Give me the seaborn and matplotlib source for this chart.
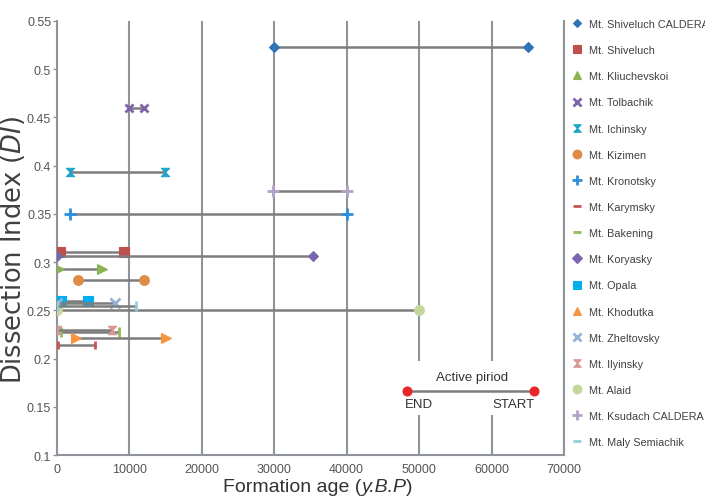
import numpy as np
import pandas as pd
import matplotlib
matplotlib.use("Agg")
import matplotlib.pyplot as plt
import seaborn as sns
from matplotlib.lines import Line2D
from matplotlib.patches import Rectangle
from matplotlib.path import Path
from matplotlib.offsetbox import TextArea, HPacker, AnchoredOffsetbox

# ---------------- data ----------------
volcanoes = ["Mt. Shiveluch CALDERA", "Mt. Shiveluch", "Mt. Kliuchevskoi", "Mt. Tolbachik",
             "Mt. Ichinsky", "Mt. Kizimen", "Mt. Kronotsky", "Mt. Karymsky", "Mt. Bakening",
             "Mt. Koryasky", "Mt. Opala", "Mt. Khodutka", "Mt. Zheltovsky", "Mt. Ilyinsky",
             "Mt. Alaid", "Mt. Ksudach CALDERA", "Mt. Maly Semiachik"]
dissection_index = [0.523, 0.310, 0.293, 0.460, 0.393, 0.281, 0.350, 0.214, 0.228,
                    0.306, 0.260, 0.221, 0.258, 0.230, 0.250, 0.374, 0.254]
end_age = [30000, 500, 300, 10000, 1800, 2900, 1800, 200, 650,
           0, 650, 2700, 0, 0, 0, 29900, 0]
start_age = [65000, 9300, 6300, 12000, 14900, 12000, 40000, 5300, 8600,
             35300, 4300, 15100, 8100, 7700, 50000, 40000, 11000]

x_ticks = [0, 10000, 20000, 30000, 40000, 50000, 60000, 70000]
y_ticks = [0.1, 0.15, 0.2, 0.25, 0.3, 0.35, 0.4, 0.45, 0.5, 0.55]
y_tick_labels = ["0.1", "0.15", "0.2", "0.25", "0.3", "0.35", "0.4", "0.45", "0.5", "0.55"]

key_end, key_start, key_y = 48400, 65800, 0.1667
key_title = "Active piriod"
key_labels = ["END", "START"]

# ---------------- styles ----------------
hourglass = Path([(-1, 1), (1, 1), (-1, -1), (1, -1), (-1, 1)],
                 [Path.MOVETO, Path.LINETO, Path.LINETO, Path.LINETO, Path.CLOSEPOLY])
colors = ["#2E75B6", "#C0504D", "#8DB255", "#7E64A8", "#1CA6C9", "#DE8C46", "#2D8FDB",
          "#CB5450", "#8FBE52", "#7A66AE", "#00AEEF", "#F7943F", "#95B3D7", "#D99694",
          "#C3D69B", "#B3A2C7", "#93CDDD"]
plot_markers = ["D", "s", ">", "x", hourglass, "o", "+", "|", "|", "D", "s", ">", "x",
                hourglass, "o", "+", "|"]
legend_markers = ["D", "s", "^", "x", hourglass, "o", "+", "_", "_", "D", "s", "^", "x",
                  hourglass, "o", "+", "_"]
msizes = [5, 7, 6.5, 6, 6, 7, 8, 6, 7, 5.5, 7, 6.5, 7, 6, 7, 8, 7]

sns.set_style("white")
plt.rcParams["font.family"] = ["Liberation Sans", "DejaVu Sans"]
plt.rcParams["mathtext.fontset"] = "dejavusans"

fig = plt.figure(figsize=(7.05, 5.02), dpi=100)
ax = fig.add_axes([0.0804, 0.0916, 0.7196, 0.8646])

df = pd.DataFrame({"name": volcanoes, "di": dissection_index,
                   "end": end_age, "start": start_age})

line_gray = "#7d7d7d"
for i, row in df.iterrows():
    seg = pd.DataFrame({"age": [row["end"], row["start"]], "di": [row["di"], row["di"]]})
    sns.lineplot(data=seg, x="age", y="di", ax=ax, color=line_gray, lw=1.8,
                 marker=plot_markers[i], markersize=msizes[i],
                 markerfacecolor=colors[i], markeredgecolor=colors[i],
                 markeredgewidth=2 if plot_markers[i] in ("x", "+", "|") else 0.8,
                 sort=False, estimator=None, zorder=3 + i * 0.01)

# key box "Active period"
ax.add_patch(Rectangle((45500, 0.141), 21000, 0.056, facecolor="white",
                       edgecolor="none", zorder=2))
key = pd.DataFrame({"age": [key_end, key_start], "di": [key_y, key_y]})
sns.lineplot(data=key, x="age", y="di", ax=ax, color=line_gray, lw=1.8,
             marker="o", markersize=6.5, markerfacecolor="#E8262A",
             markeredgecolor="#E8262A", sort=False, estimator=None, zorder=4)
ax.text((key_end + key_start) / 2 + 200, key_y + 0.0075, key_title, ha="center",
        va="bottom", fontsize=9.5, color="#333333", zorder=5)
ax.text(50000, key_y - 0.008, key_labels[0], ha="center", va="top", fontsize=9.5,
        color="#333333", zorder=5)
ax.text(63000, key_y - 0.008, key_labels[1], ha="center", va="top", fontsize=9.5,
        color="#333333", zorder=5)

ax.set_xlim(0, 70000)
ax.set_ylim(0.1, 0.55)
ax.set_xticks(x_ticks)
ax.set_xticklabels([str(v) for v in x_ticks])
ax.set_yticks(y_ticks)
ax.set_yticklabels(y_tick_labels)
ax.grid(axis="x", color="#8f949a", lw=1.5, zorder=1)
ax.grid(axis="y", visible=False)
ax.set_axisbelow(True)
ax.spines["top"].set_visible(False)
for s in ["left", "bottom", "right"]:
    ax.spines[s].set_color("#8f949a")
    ax.spines[s].set_linewidth(1.5)
ax.tick_params(axis="x", length=0, pad=6, labelsize=9, labelcolor="#555555")
ax.tick_params(axis="y", length=3, width=1, color="#8f949a", pad=1, labelsize=9,
               labelcolor="#555555", left=True)
ax.set_xlabel("")
ax.set_ylabel("Dissection Index ($\\it{DI}$)", fontfamily="DejaVu Sans",
              fontsize=18.5, color="#404040")
ax.yaxis.set_label_coords(-0.058, 0.475)

# x label with italic part
tp = dict(fontsize=14, color="#333333", fontfamily="Liberation Sans")
tpi = dict(tp, fontstyle="italic")
box = HPacker(children=[TextArea("Formation age (", textprops=tp),
                        TextArea("y.B.P", textprops=tpi),
                        TextArea(")", textprops=tp)], align="baseline", pad=0, sep=0)
anch = AnchoredOffsetbox(loc="center", child=box, pad=0, borderpad=0, frameon=False,
                         bbox_to_anchor=(318 / 705, 1 - 488 / 502),
                         bbox_transform=fig.transFigure)
fig.add_artist(anch)

# legend
handles = []
for i in range(len(volcanoes)):
    handles.append(Line2D([], [], linestyle="none", marker=legend_markers[i],
                          markersize=msizes[i] * 0.9, color=colors[i],
                          markerfacecolor=colors[i], markeredgecolor=colors[i],
                          markeredgewidth=2 if legend_markers[i] in ("x", "+", "_") else 0.8))
leg = fig.legend(handles, volcanoes, loc="upper left",
                 bbox_to_anchor=(572 / 705, 1 - 20 / 502), frameon=False,
                 fontsize=7.8, labelspacing=1.49, handlelength=1.0, handletextpad=0.55,
                 borderaxespad=0, borderpad=0)
for t in leg.get_texts():
    t.set_color("#404040")

fig.savefig("out.png", dpi=100)
